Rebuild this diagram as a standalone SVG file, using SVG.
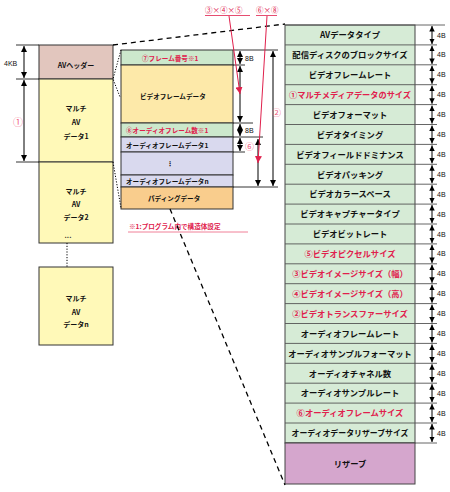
<svg xmlns="http://www.w3.org/2000/svg" width="450" height="492" viewBox="0 0 450 492">
<defs>
<marker id="ah" viewBox="0 0 10 10" refX="10" refY="5" markerWidth="6" markerHeight="6" markerUnits="userSpaceOnUse" orient="auto-start-reverse"><path d="M0,0 L10,5 L0,10 z" fill="#000"/></marker>
<marker id="ahs" viewBox="0 0 10 10" refX="10" refY="5" markerWidth="5.5" markerHeight="5.5" markerUnits="userSpaceOnUse" orient="auto-start-reverse"><path d="M0,0 L10,5 L0,10 z" fill="#000"/></marker>
<marker id="ahr" viewBox="0 0 10 10" refX="10" refY="5" markerWidth="7" markerHeight="7" markerUnits="userSpaceOnUse" orient="auto-start-reverse"><path d="M0,0 L10,5 L0,10 z" fill="#E0204C"/></marker>
<style>
text{font-family:"Noto Sans CJK JP","DejaVu Sans",sans-serif;font-weight:bold;fill:#111}
.t{font-size:8.3px;text-anchor:middle}
.m{font-size:6.6px}
.l{font-size:7px;text-anchor:middle}
.s{font-size:7px;font-family:"Liberation Sans",sans-serif;font-weight:normal}
.c{font-family:"Noto Sans CJK JP",sans-serif;font-weight:normal}
.red{fill:#E0204C}
.pk{fill:#F06080}
.box{stroke:#333;stroke-width:1}
.ar{stroke:#000;stroke-width:1;fill:none;marker-start:url(#ah);marker-end:url(#ah)}
.ar4{stroke:#000;stroke-width:1;fill:none;marker-start:url(#ahs);marker-end:url(#ahs)}
.hl{stroke:#000;stroke-width:0.8}
.rl{stroke:#E0204C;stroke-width:1;fill:none}
.dash{stroke:#000;stroke-width:1.3;fill:none;stroke-dasharray:5,4}
.dot{stroke:#000;stroke-width:1;fill:none;stroke-dasharray:1.2,1.6}
</style>
</defs>

<g id="left-column">
<g id="av-header"><rect class="box" x="39" y="45" width="74" height="34" fill="#E2C6BE"/><text class="l" x="76" y="68">AVヘッダー</text></g>
<g id="av-data1"><rect class="box" x="39" y="79" width="74" height="83" fill="#FFF9B8"/><text class="l" x="76" y="111">マルチ</text><text class="l" x="76" y="125">AV</text><text class="l" x="76" y="139">データ1</text></g>
<g id="av-data2"><rect class="box" x="39" y="162" width="74" height="81" fill="#FFF9B8"/><text class="l" x="76" y="194">マルチ</text><text class="l" x="76" y="207">AV</text><text class="l" x="76" y="220">データ2</text><text class="l" x="68" y="238">...</text></g>
<g id="av-datan"><rect class="box" x="39" y="267" width="74" height="78" fill="#FFF9B8"/><text class="l" x="76" y="301">マルチ</text><text class="l" x="76" y="315">AV</text><text class="l" x="76" y="327">データn</text></g>
</g>

<g id="middle-structure">
<g id="frame-number"><rect class="box" x="121" y="50" width="112" height="15" fill="#CCE8CC"/><text class="m red" x="142" y="60.5">⑦フレーム番号※1</text></g>
<g id="video-frame-data"><rect class="box" x="121" y="65" width="112" height="58" fill="#FDE9A9"/><text class="m" x="140" y="99">ビデオフレームデータ</text></g>
<g id="audio-frame-count"><rect class="box" x="121" y="123" width="112" height="14" fill="#CCE8CC"/><text class="m red" x="126" y="133">⑧オーディオフレーム数※1</text></g>
<g id="audio-frame-data1"><rect class="box" x="121" y="137" width="112" height="15" fill="#D9D9EE"/><text class="m" x="126" y="147.5">オーディオフレームデータ1</text></g>
<g id="audio-frame-dots"><rect class="box" x="121" y="152" width="112" height="23" fill="#D9D9EE"/><text class="m" x="170" y="166" text-anchor="middle">⋮</text></g>
<g id="audio-frame-datan"><rect class="box" x="121" y="175" width="112" height="12" fill="#D9D9EE"/><text class="m" x="126" y="184">オーディオフレームデータn</text></g>
<g id="padding-data"><rect class="box" x="121" y="187" width="112" height="22" fill="#F9CD8D"/><text class="m" x="148" y="201">パディングデータ</text></g>
<g id="note"><text class="m red" x="129" y="229">※1:プログラム内で構造体設定</text><line x1="128" y1="232" x2="248" y2="232" stroke="#F08098" stroke-width="1"/></g>
</g>

<g id="right-table">
<rect x="285" y="25" width="130" height="418" fill="#D6EBD6" stroke="#444" stroke-width="1"/>
<g stroke="#555" stroke-width="0.9">
<line x1="285" y1="44.9" x2="437" y2="44.9"/><line x1="285" y1="64.8" x2="437" y2="64.8"/><line x1="285" y1="84.7" x2="437" y2="84.7"/><line x1="285" y1="104.6" x2="437" y2="104.6"/><line x1="285" y1="124.5" x2="437" y2="124.5"/><line x1="285" y1="144.4" x2="437" y2="144.4"/><line x1="285" y1="164.3" x2="437" y2="164.3"/><line x1="285" y1="184.2" x2="437" y2="184.2"/><line x1="285" y1="204.1" x2="437" y2="204.1"/><line x1="285" y1="224" x2="437" y2="224"/><line x1="285" y1="243.9" x2="437" y2="243.9"/><line x1="285" y1="263.8" x2="437" y2="263.8"/><line x1="285" y1="283.7" x2="437" y2="283.7"/><line x1="285" y1="303.6" x2="437" y2="303.6"/><line x1="285" y1="323.5" x2="437" y2="323.5"/><line x1="285" y1="343.4" x2="437" y2="343.4"/><line x1="285" y1="363.3" x2="437" y2="363.3"/><line x1="285" y1="383.2" x2="437" y2="383.2"/><line x1="285" y1="403.1" x2="437" y2="403.1"/><line x1="285" y1="423" x2="437" y2="423"/><line x1="285" y1="443" x2="437" y2="443"/><line x1="285" y1="25" x2="445" y2="25"/>
</g>
<text class="t" x="350" y="38">AVデータタイプ</text>
<text class="t" x="350" y="58">配信ディスクのブロックサイズ</text>
<text class="t" x="350" y="78">ビデオフレームレート</text>
<text class="t red" x="350" y="98" textLength="122" lengthAdjust="spacingAndGlyphs">①マルチメディアデータのサイズ</text>
<text class="t" x="350" y="117.5">ビデオフォーマット</text>
<text class="t" x="350" y="137.5">ビデオタイミング</text>
<text class="t" x="350" y="157.5">ビデオフィールドドミナンス</text>
<text class="t" x="350" y="177.5">ビデオパッキング</text>
<text class="t" x="350" y="197">ビデオカラースペース</text>
<text class="t" x="350" y="217">ビデオキャプチャータイプ</text>
<text class="t" x="350" y="237">ビデオビットレート</text>
<text class="t red" x="350" y="257">⑤ビデオピクセルサイズ</text>
<text class="t red" x="350" y="277">③ビデオイメージサイズ（幅）</text>
<text class="t red" x="350" y="297">④ビデオイメージサイズ（高）</text>
<text class="t red" x="350" y="316.5">②ビデオトランスファーサイズ</text>
<text class="t" x="350" y="336.5">オーディオフレームレート</text>
<text class="t" x="350" y="356.5">オーディオサンプルフォーマット</text>
<text class="t" x="350" y="376.5">オーディオチャネル数</text>
<text class="t" x="350" y="396">オーディオサンプルレート</text>
<text class="t red" x="350" y="416">⑥オーディオフレームサイズ</text>
<text class="t" x="350" y="436" textLength="117" lengthAdjust="spacingAndGlyphs">オーディオデータリザーブサイズ</text>
<g id="reserve"><rect x="285" y="443" width="130" height="41" fill="#D5A6CD" stroke="#444" stroke-width="1"/><text class="t" x="350" y="467">リザーブ</text></g>
<g id="sizes-4b">
<line class="ar4" x1="432" y1="26" x2="432" y2="44"/><line class="ar4" x1="432" y1="45.9" x2="432" y2="63.9"/><line class="ar4" x1="432" y1="65.8" x2="432" y2="83.8"/><line class="ar4" x1="432" y1="85.7" x2="432" y2="103.7"/><line class="ar4" x1="432" y1="105.6" x2="432" y2="123.6"/><line class="ar4" x1="432" y1="125.5" x2="432" y2="143.5"/><line class="ar4" x1="432" y1="145.4" x2="432" y2="163.4"/><line class="ar4" x1="432" y1="165.3" x2="432" y2="183.3"/><line class="ar4" x1="432" y1="185.2" x2="432" y2="203.2"/><line class="ar4" x1="432" y1="205.1" x2="432" y2="223.1"/><line class="ar4" x1="432" y1="225" x2="432" y2="243"/><line class="ar4" x1="432" y1="244.9" x2="432" y2="262.9"/><line class="ar4" x1="432" y1="264.8" x2="432" y2="282.8"/><line class="ar4" x1="432" y1="284.7" x2="432" y2="302.7"/><line class="ar4" x1="432" y1="304.6" x2="432" y2="322.6"/><line class="ar4" x1="432" y1="324.5" x2="432" y2="342.5"/><line class="ar4" x1="432" y1="344.4" x2="432" y2="362.4"/><line class="ar4" x1="432" y1="364.3" x2="432" y2="382.3"/><line class="ar4" x1="432" y1="384.2" x2="432" y2="402.2"/><line class="ar4" x1="432" y1="404.1" x2="432" y2="422.1"/><line class="ar4" x1="432" y1="424" x2="432" y2="442"/>
<text class="s" x="437" y="37.5">4B</text><text class="s" x="437" y="57.4">4B</text><text class="s" x="437" y="77.3">4B</text><text class="s" x="437" y="97.2">4B</text><text class="s" x="437" y="117.1">4B</text><text class="s" x="437" y="137">4B</text><text class="s" x="437" y="156.9">4B</text><text class="s" x="437" y="176.8">4B</text><text class="s" x="437" y="196.7">4B</text><text class="s" x="437" y="216.6">4B</text><text class="s" x="437" y="236.5">4B</text><text class="s" x="437" y="256.4">4B</text><text class="s" x="437" y="276.3">4B</text><text class="s" x="437" y="296.2">4B</text><text class="s" x="437" y="316.1">4B</text><text class="s" x="437" y="336">4B</text><text class="s" x="437" y="355.9">4B</text><text class="s" x="437" y="375.8">4B</text><text class="s" x="437" y="395.7">4B</text><text class="s" x="437" y="415.6">4B</text><text class="s" x="437" y="435.5">4B</text>
</g>
</g>

<g id="connectors">
<line class="hl" x1="16" y1="45" x2="39" y2="45"/><line class="hl" x1="16" y1="79" x2="39" y2="79"/><line class="hl" x1="16" y1="162" x2="39" y2="162"/>
<line class="ar" x1="24" y1="46" x2="24" y2="78"/>
<line class="ar" x1="24" y1="80" x2="24" y2="161"/>
<text class="s" x="4" y="66">4KB</text>
<text class="c pk" x="13" y="126" style="font-size:10px">①</text>
<line class="dot" x1="67" y1="243" x2="67" y2="267"/>
<path class="dot" d="M121,50 L113,79 L120,97"/>
<path class="dot" d="M113,162 L121,208"/>
<line class="dash" x1="113" y1="45" x2="285" y2="24"/>
<line class="dash" x1="170" y1="209" x2="285" y2="485"/>
<line class="hl" x1="233" y1="50" x2="278" y2="50"/>
<line class="hl" x1="233" y1="65" x2="245" y2="65"/>
<line class="hl" x1="233" y1="123" x2="253" y2="123"/>
<line class="hl" x1="233" y1="137" x2="263" y2="137"/>
<line class="hl" x1="233" y1="152" x2="245" y2="152"/>
<line class="hl" x1="233" y1="187" x2="278" y2="187"/>
<line class="ar" x1="240" y1="51" x2="240" y2="64"/>
<line class="ar" x1="240" y1="66" x2="240" y2="122"/>
<line class="ar" x1="240" y1="124" x2="240" y2="136"/>
<line class="ar" x1="240" y1="138" x2="240" y2="151"/>
<line class="ar" x1="258" y1="139" x2="258" y2="186"/>
<line class="ar" x1="273" y1="51" x2="273" y2="186"/>
<text class="s" x="245" y="61">8B</text>
<text class="s" x="245" y="133">8B</text>
<text class="c pk" x="245" y="149.5" style="font-size:9px">⑥</text>
<text class="c pk" x="272" y="116" style="font-size:9px">②</text>
<text class="c red" x="205" y="13" style="font-size:7.5px">③×④×⑤</text>
<line x1="205" y1="15.5" x2="250" y2="15.5" stroke="#E0204C" stroke-width="0.8"/>
<text class="c red" x="256" y="13" style="font-size:7.5px">⑥×⑧</text>
<line x1="256" y1="15.5" x2="277" y2="15.5" stroke="#E0204C" stroke-width="0.8"/>
<line class="rl" x1="229" y1="16" x2="240" y2="94" marker-end="url(#ahr)"/>
<line class="rl" x1="267" y1="16" x2="258" y2="163" marker-end="url(#ahr)"/>
</g>
</svg>
